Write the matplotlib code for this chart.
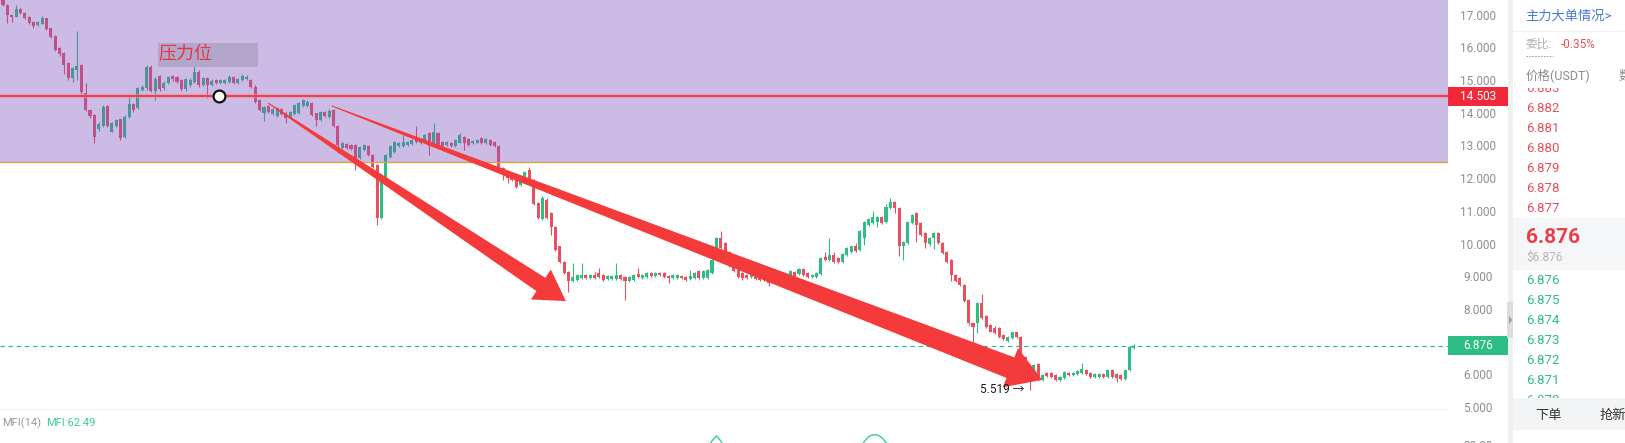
import matplotlib
matplotlib.use('Agg')
import matplotlib.pyplot as plt
from matplotlib.patches import Rectangle, Polygon
from matplotlib.transforms import blended_transform_factory
import numpy as np

plt.rcParams['font.family'] = ['Roboto', 'Noto Sans CJK SC', 'DejaVu Sans']

# candle data (one candle per slot, left to right)
opens = [
    17.45, 17.30, 16.99, 16.94, 17.16, 17.06, 16.92, 16.79, 16.68, 16.72,
    16.89, 16.58, 16.35, 15.97, 15.84, 15.53, 15.05, 15.31, 15.45, 14.60,
    14.09, 13.93, 13.49, 13.60, 14.21, 13.42, 13.60, 13.80, 13.27, 13.88,
    14.27, 14.14, 14.70, 14.75, 15.41, 14.68, 15.11, 14.75, 14.92, 15.11,
    15.09, 15.00, 14.72, 14.85, 14.95, 15.26, 14.85, 15.05, 14.85, 15.00,
    14.90, 14.92, 14.95, 15.10, 14.92, 15.00, 15.02, 15.00, 14.80, 14.39,
    13.98, 14.21, 13.96, 13.90, 14.11, 14.00, 13.88, 13.96, 14.00, 14.21,
    14.21, 14.29, 13.98, 13.78, 14.03, 13.88, 14.09, 13.58, 12.91, 13.04,
    13.01, 13.02, 12.62, 12.86, 12.99, 12.71, 12.40, 10.78, 12.00, 12.66,
    12.81, 12.97, 12.97, 13.02, 13.05, 13.27, 13.07, 13.12, 13.37, 13.07,
    13.39, 13.12, 13.02, 13.09, 12.97, 13.09, 13.27, 13.19, 13.07, 13.09,
    13.22, 13.07, 13.17, 13.12, 12.97, 12.30, 12.20, 12.05, 11.99, 11.79,
    11.99, 12.25, 11.95, 11.23, 10.75, 11.33, 10.93, 10.52, 9.91, 9.45,
    9.14, 8.84, 8.89, 8.94, 9.04, 8.94, 9.04, 9.09, 9.04, 8.91,
    8.91, 8.91, 9.04, 8.97, 8.84, 8.89, 9.07, 8.94, 8.97, 9.11,
    9.01, 9.11, 9.09, 9.01, 8.94, 8.94, 9.01, 8.97, 8.91, 8.94,
    9.17, 8.94, 8.94, 9.09, 9.55, 10.16, 10.01, 9.75, 9.35, 9.20,
    9.09, 9.04, 8.97, 9.04, 8.99, 8.99, 8.89, 8.89, 8.91, 8.97,
    9.04, 8.99, 9.14, 9.07, 9.21, 9.09, 8.97, 8.99, 9.07, 9.58,
    9.50, 9.65, 9.55, 9.45, 9.65, 9.75, 9.91, 9.80, 10.16, 10.57,
    10.64, 10.67, 10.82, 10.67, 11.08, 11.28, 11.08, 9.91, 10.01, 10.62,
    10.93, 10.62, 10.31, 9.99, 10.16, 10.31, 10.01, 9.75, 9.50, 9.04,
    8.94, 8.73, 8.28, 7.58, 7.56, 8.17, 7.77, 7.51, 7.41, 7.41,
    7.20, 7.03, 7.10, 7.28, 7.15, 6.54, 6.30, 6.10, 6.32, 5.83,
    6.05, 6.05, 5.98, 5.83, 5.88, 6.05, 5.98, 6.01, 6.05, 6.14,
    6.03, 5.93, 5.93, 6.00, 5.93, 6.14, 6.01, 5.98, 5.86, 6.14,
    6.80,
]
closes = [
    17.30, 16.99, 16.92, 17.16, 17.06, 16.89, 16.74, 16.65, 16.79, 16.89,
    16.55, 16.33, 15.92, 15.80, 15.46, 15.05, 15.36, 15.43, 14.62, 14.09,
    13.90, 13.27, 13.66, 14.19, 13.60, 13.68, 13.78, 13.24, 13.88, 14.27,
    14.09, 14.75, 14.78, 15.41, 14.68, 15.02, 14.72, 14.92, 15.09, 15.02,
    14.95, 14.72, 15.02, 15.00, 15.26, 14.85, 15.05, 14.85, 14.98, 14.90,
    15.00, 15.00, 15.10, 14.90, 15.02, 15.12, 15.08, 14.80, 14.34, 14.09,
    14.19, 14.03, 14.11, 14.14, 13.96, 13.83, 14.03, 14.24, 14.31, 14.39,
    14.34, 13.93, 13.78, 14.03, 13.90, 14.06, 13.58, 13.01, 13.07, 12.91,
    12.88, 12.56, 12.96, 13.02, 12.71, 12.34, 10.78, 12.00, 12.71, 12.97,
    13.12, 13.07, 13.12, 13.12, 13.17, 13.12, 13.19, 13.32, 12.97, 13.42,
    13.02, 12.97, 13.12, 12.97, 13.17, 13.32, 13.07, 13.02, 13.15, 13.17,
    13.07, 13.19, 13.02, 12.97, 12.30, 12.20, 11.99, 11.95, 11.72, 11.95,
    12.20, 11.95, 11.21, 10.77, 11.38, 10.77, 10.52, 9.81, 9.45, 9.09,
    8.84, 8.99, 9.04, 9.04, 8.94, 9.04, 8.94, 8.99, 8.89, 9.01,
    9.01, 9.04, 8.91, 8.84, 8.99, 9.04, 8.97, 9.04, 9.09, 9.01,
    9.11, 9.04, 8.99, 8.94, 9.04, 9.04, 8.94, 8.89, 9.01, 9.09,
    8.94, 9.17, 9.19, 9.50, 10.16, 9.86, 9.70, 9.30, 9.15, 8.99,
    8.94, 8.94, 9.07, 8.91, 8.89, 8.89, 8.79, 8.99, 8.99, 9.07,
    8.94, 9.17, 9.01, 9.21, 9.04, 8.97, 9.04, 9.11, 9.55, 9.50,
    9.65, 9.45, 9.45, 9.68, 9.86, 9.91, 9.78, 10.37, 10.67, 10.74,
    10.80, 10.82, 10.64, 11.13, 11.28, 11.08, 9.91, 10.06, 10.67, 10.87,
    10.57, 10.26, 10.01, 10.16, 10.31, 10.01, 9.72, 9.45, 9.04, 8.84,
    8.73, 8.23, 7.56, 7.46, 8.17, 7.72, 7.46, 7.31, 7.26, 7.15,
    7.07, 7.15, 7.28, 7.15, 6.54, 6.30, 6.10, 6.29, 5.83, 5.98,
    5.95, 5.93, 5.83, 5.91, 6.08, 5.98, 6.05, 6.11, 6.16, 6.01,
    5.91, 6.01, 6.01, 5.93, 6.14, 5.93, 5.88, 5.86, 6.14, 6.85,
    6.88,
]
highs = [
    17.45, 17.33, 17.00, 17.30, 17.20, 17.08, 16.95, 16.80, 16.82, 16.96,
    16.90, 16.60, 16.37, 16.00, 15.86, 15.55, 15.40, 16.50, 15.48, 14.90,
    14.12, 13.95, 13.72, 14.25, 14.25, 13.72, 13.82, 13.82, 13.92, 14.56,
    14.30, 14.80, 14.85, 15.45, 15.45, 15.08, 15.16, 14.98, 15.12, 15.14,
    15.12, 15.04, 15.06, 15.05, 15.46, 15.30, 15.10, 15.08, 15.02, 15.04,
    15.04, 15.04, 15.14, 15.13, 15.05, 15.18, 15.14, 15.04, 14.84, 14.42,
    14.22, 14.25, 14.14, 14.18, 14.14, 14.03, 14.06, 14.27, 14.34, 14.43,
    14.38, 14.32, 14.00, 14.06, 14.06, 14.10, 14.12, 13.62, 13.10, 13.07,
    13.04, 13.05, 12.99, 13.05, 13.02, 12.74, 12.43, 12.03, 12.74, 13.00,
    13.15, 13.10, 13.32, 13.15, 13.20, 13.60, 13.22, 13.35, 13.40, 13.70,
    13.42, 13.15, 13.15, 13.12, 13.20, 13.38, 13.30, 13.22, 13.18, 13.20,
    13.27, 13.22, 13.20, 13.15, 13.00, 12.33, 12.23, 12.08, 12.02, 11.98,
    12.23, 12.35, 11.98, 11.26, 11.45, 11.40, 10.96, 10.55, 9.94, 9.48,
    9.17, 9.40, 9.07, 9.40, 9.07, 9.07, 9.14, 9.24, 9.07, 9.04,
    9.04, 9.42, 9.07, 9.00, 9.02, 9.07, 9.24, 9.07, 9.12, 9.14,
    9.14, 9.14, 9.12, 9.04, 9.07, 9.07, 9.04, 9.00, 9.19, 9.12,
    9.20, 9.20, 9.22, 9.53, 10.20, 10.37, 10.04, 9.78, 9.38, 9.23,
    9.12, 9.07, 9.10, 9.07, 9.02, 9.02, 8.92, 9.02, 9.02, 9.10,
    9.07, 9.20, 9.17, 9.24, 9.24, 9.12, 9.07, 9.14, 9.58, 9.75,
    10.16, 9.75, 9.58, 9.71, 9.89, 9.94, 10.03, 10.40, 10.70, 10.77,
    10.98, 10.85, 10.85, 11.21, 11.38, 11.31, 11.11, 10.09, 10.70, 10.90,
    10.96, 10.65, 10.34, 10.19, 10.34, 10.34, 10.04, 9.78, 9.53, 9.07,
    8.97, 8.76, 8.31, 7.61, 8.20, 8.46, 7.80, 7.54, 7.48, 7.44,
    7.23, 7.18, 7.31, 7.31, 7.18, 6.57, 6.33, 6.32, 6.35, 6.01,
    6.08, 6.08, 6.01, 5.94, 6.11, 6.08, 6.08, 6.14, 6.34, 6.17,
    6.06, 6.04, 6.04, 6.03, 6.17, 6.17, 6.04, 6.01, 6.17, 6.88,
    6.92,
]
lows = [
    17.27, 16.74, 16.79, 16.92, 17.03, 16.86, 16.72, 16.60, 16.65, 16.70,
    16.52, 16.30, 15.88, 15.75, 15.19, 15.00, 14.95, 15.00, 14.58, 14.05,
    13.85, 13.07, 13.45, 13.55, 13.55, 13.40, 13.55, 13.18, 13.22, 13.85,
    14.02, 14.10, 14.65, 14.70, 14.62, 14.39, 14.68, 14.70, 14.88, 14.98,
    14.90, 14.68, 14.68, 14.80, 14.92, 14.80, 14.82, 14.44, 14.82, 14.87,
    14.87, 14.88, 14.92, 14.87, 14.89, 14.97, 15.00, 14.77, 14.30, 14.05,
    13.76, 14.00, 13.92, 13.86, 13.92, 13.68, 13.85, 13.93, 13.96, 14.18,
    14.18, 13.90, 13.58, 13.75, 13.87, 13.85, 13.55, 12.76, 12.88, 12.88,
    12.85, 12.25, 12.59, 12.83, 12.68, 12.31, 10.57, 10.75, 11.97, 12.62,
    12.78, 12.94, 12.94, 12.99, 13.02, 13.09, 13.04, 13.09, 12.71, 13.04,
    12.99, 12.94, 12.99, 12.94, 12.94, 13.06, 12.86, 12.99, 13.04, 13.06,
    13.04, 13.04, 12.99, 12.94, 12.27, 11.95, 11.84, 11.92, 11.69, 11.76,
    11.96, 11.92, 11.18, 10.74, 10.72, 10.74, 10.26, 9.78, 9.42, 9.06,
    8.53, 8.81, 8.86, 8.91, 8.91, 8.91, 8.91, 8.96, 8.86, 8.88,
    8.88, 8.88, 8.88, 8.28, 8.81, 8.86, 8.94, 8.91, 8.94, 8.98,
    8.98, 9.01, 8.96, 8.79, 8.91, 8.91, 8.91, 8.86, 8.88, 8.91,
    8.91, 8.91, 8.91, 9.06, 9.52, 9.83, 9.67, 9.27, 9.12, 8.96,
    8.89, 8.91, 8.94, 8.88, 8.86, 8.86, 8.71, 8.86, 8.88, 8.94,
    8.91, 8.96, 8.98, 9.04, 9.01, 8.94, 8.94, 8.96, 9.04, 9.47,
    9.47, 9.42, 9.42, 9.42, 9.62, 9.72, 9.75, 9.77, 9.96, 10.54,
    10.61, 10.52, 10.61, 10.64, 11.05, 10.93, 9.62, 9.50, 9.98, 10.59,
    10.06, 10.23, 9.86, 9.91, 9.83, 9.98, 9.69, 9.42, 8.84, 8.81,
    8.70, 8.20, 7.51, 6.90, 7.26, 7.69, 7.43, 7.28, 7.23, 7.12,
    7.04, 7.00, 7.07, 7.12, 6.51, 6.27, 5.52, 6.07, 5.80, 5.80,
    5.92, 5.90, 5.80, 5.80, 5.85, 5.95, 5.95, 5.98, 6.02, 5.98,
    5.88, 5.90, 5.90, 5.90, 5.90, 5.90, 5.78, 5.83, 5.83, 6.11,
    6.78,
]

price_ticks = [5, 6, 7, 8, 9, 10, 11, 12, 13, 14, 15, 16, 17]
resistance = 14.503
last_price = 6.876
zone_bottom = 12.5
low_mark = 5.519

# MFI only pokes into view at two spots
mfi_idx_a = [162, 163, 164, 165, 166]
mfi_val_a = [77.0, 81.0, 84.0, 81.0, 77.0]
mfi_idx_b = [197, 198, 199, 200, 201, 202, 203, 204]
mfi_val_b = [77.0, 80.5, 83.5, 84.6, 84.6, 83.0, 80.0, 77.0]

ask_prices = ['6.883', '6.882', '6.881', '6.880', '6.879', '6.878', '6.877']
bid_prices = ['6.876', '6.875', '6.874', '6.873', '6.872', '6.871', '6.870']

RED = '#ea4f5f'
GREEN = '#2ebd85'

W, H = 1625, 443
fig = plt.figure(figsize=(W / 100, H / 100), dpi=100)


def px_rect(x0, y0, x1, y1):
    # pixel box, origin top-left -> figure fraction rect
    return [x0 / W, 1 - y1 / H, (x1 - x0) / W, (y1 - y0) / H]


ax = fig.add_axes(px_rect(0, 0, 1448, 409))
ax_mfi = fig.add_axes(px_rect(0, 409, 1448, 443))
side = fig.add_axes(px_rect(1448, 0, 1625, 443))

o = np.array(opens)
c = np.array(closes)
h = np.array(highs)
l = np.array(lows)
x = np.arange(len(c))
cols = np.where(c >= o, GREEN, RED)

XLIM = (-0.69, 332.2)
ax.set_xlim(*XLIM)
ax.set_ylim(4.94, 17.448)

ax.vlines(x, l, h, colors=cols, lw=0.8, zorder=2)
ax.bar(x, np.maximum(np.abs(c - o), 0.03), bottom=np.minimum(o, c), width=0.7,
       color=cols, linewidth=0, zorder=2)

# resistance zone
ax.axhspan(zone_bottom, 17.448, color='#7d55c0', alpha=0.4, lw=0, zorder=3)
ax.axhline(zone_bottom, color='#d6a24a', lw=1, zorder=3.5)
ax.axhline(resistance, color='#f28ca2', lw=3.0, alpha=0.6, zorder=4)
ax.axhline(resistance, color='#e8323c', lw=1.2, zorder=4.1)
ax.axhline(last_price, color=GREEN, lw=0.9, ls=(0, (3.5, 3)), zorder=4)

ax.add_patch(Rectangle((35.6, 15.399), 23.0, 0.734, color='#b2a6ca', lw=0, zorder=5))
ax.text(35.8, 15.78, '压力位', color='#e5353f', fontsize=13, va='center', ha='left',
        family=['Noto Sans CJK SC', 'DejaVu Sans'], zorder=6)
ax.plot(49.6, resistance, 'o', ms=8.5, mfc='white', mec='#111111', mew=1.6, zorder=7)


def fat_arrow(start, end, w0, w1, head_w, head_len, color='#f43a3a'):
    tr = ax.transData
    p0 = np.array(tr.transform(start))
    p1 = np.array(tr.transform(end))
    d = p1 - p0
    u = d / np.hypot(*d)
    n = np.array([-u[1], u[0]])
    base = p1 - u * head_len
    pts = [p0 + n * w0 / 2, base + n * w1 / 2, base + n * head_w / 2, p1,
           base - n * head_w / 2, base - n * w1 / 2, p0 - n * w0 / 2]
    ax.add_patch(Polygon(tr.inverted().transform(pts), closed=True, color=color,
                         lw=0, zorder=6))


fat_arrow((60.9, 14.30), (129.4, 8.24), 1.0, 16, 36, 30)
fat_arrow((75.6, 14.21), (238.9, 5.83), 1.0, 22, 42, 34)

ax.text(234.9, 5.53, '5.519 →', ha='right', va='center', fontsize=8.5,
        color='#1a1a1a', zorder=6)

# right price scale
ax.yaxis.tick_right()
ax.set_yticks(price_ticks)
ax.set_yticklabels([f'{v:.3f}' for v in price_ticks])
ax.tick_params(axis='y', length=0, pad=21.6, labelsize=8.5, labelcolor='#8e8e8e')
for t in ax.get_yticklabels():
    t.set_ha('center')
ax.set_xticks([])
for s in ax.spines.values():
    s.set_visible(False)

bt = blended_transform_factory(fig.transFigure, ax.transData)
for val, col in [(resistance, '#f0283a'), (last_price, GREEN)]:
    ax.add_patch(Rectangle((1448 / W, val - 9.5 / 32.7), 60 / W, 19 / 32.7,
                           transform=bt, color=col, lw=0, clip_on=False, zorder=10))
    ax.text(1478 / W, val, f'{val:.3f}', transform=bt, ha='center', va='center',
            color='white', fontsize=8.5, clip_on=False, zorder=11)

# MFI pane
ax_mfi.set_xlim(*XLIM)
ax_mfi.set_ylim(79.7, 100)
ax_mfi.axis('off')
ax_mfi.plot(mfi_idx_a, mfi_val_a, color='#3cc9a0', lw=1)
ax_mfi.plot(mfi_idx_b, mfi_val_b, color='#3cc9a0', lw=1)
fig.text(2 / W, 1 - 423 / H, 'MFI(14)', color='#9a9a9a', fontsize=8, va='center')
fig.text(46 / W, 1 - 423 / H, 'MFI:62.49', color='#3cc9a0', fontsize=8, va='center')
fig.add_artist(plt.Line2D([0, 1448 / W], [1 - 409 / H] * 2, color='#f3f3f3', lw=0.8))

# right side: scale strip + order book panel (pixel coords)
side.set_xlim(1448, 1625)
side.set_ylim(443, 0)
side.axis('off')
side.add_patch(Rectangle((1508, 0), 5, 443, color='#eff0f2', lw=0))
side.add_patch(Rectangle((1507, 302), 6, 36, color='#dcdde0', lw=0))
side.add_patch(Polygon([(1509, 316), (1512, 320), (1509, 324)], color='#9a9a9a', lw=0))
side.text(1478, 446, '80.00', ha='center', va='center', fontsize=8.5, color='#8e8e8e')

side.text(1525, 16, '主力大单情况>', color='#4a78d8', fontsize=9.5, va='center')
side.plot([1513, 1625], [30.5, 30.5], color='#f0f0f0', lw=0.8)
side.text(1526, 44, '委比:', color='#b0b0b0', fontsize=8.5, va='center')
side.plot([1526, 1553], [56, 56], color='#999999', lw=0.7, ls=(0, (1.5, 1.5)))
side.text(1561, 44, '-0.35%', color='#e8505b', fontsize=8.5, va='center')
side.plot([1513, 1625], [61.5, 61.5], color='#f0f0f0', lw=0.8)

for i, p in enumerate(ask_prices):
    side.text(1526, 88.3 + 20 * i, p, color='#e8505b', fontsize=9.5, va='center', zorder=2)
side.add_patch(Rectangle((1513, 62), 112, 25.5, color='white', lw=0, zorder=3))
side.text(1526, 76, '价格(USDT)', color='#8c8c8c', fontsize=9, va='center', zorder=4)
side.text(1619, 76, '数', color='#8c8c8c', fontsize=9, va='center', zorder=4)

side.add_patch(Rectangle((1513, 218), 112, 52, color='#f5f6f8', lw=0, zorder=1))
side.text(1526, 237, '6.876', color='#e8404a', fontsize=15, fontweight='bold',
          va='center', zorder=2)
side.text(1526, 257, '$6.876', color='#b5b5b5', fontsize=8.5, va='center', zorder=2)

for i, p in enumerate(bid_prices):
    side.text(1526, 280 + 20 * i, p, color=GREEN, fontsize=9.5, va='center', zorder=2)
side.add_patch(Rectangle((1513, 398), 112, 32, color='#f3f4f6', lw=0, zorder=3))
side.text(1535, 415, '下单', color='#333333', fontsize=9.5, va='center', zorder=4)
side.text(1600, 415, '抢新', color='#333333', fontsize=9.5, va='center', zorder=4)

fig.savefig('out.png', dpi=100, facecolor='white')
